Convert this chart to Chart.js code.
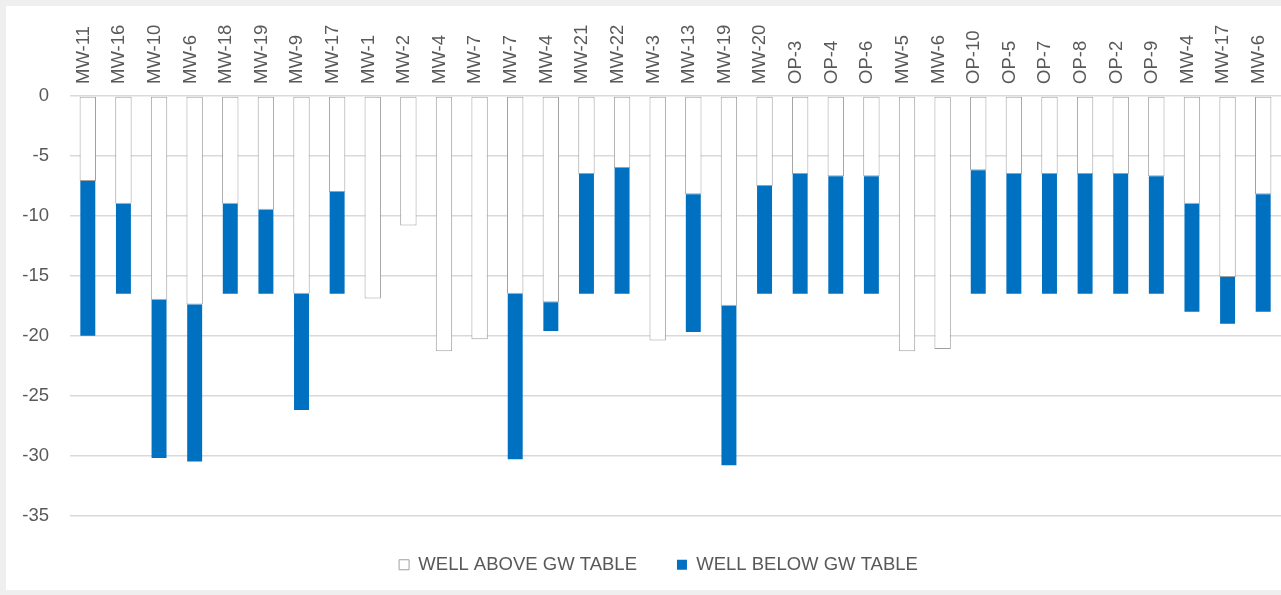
<!DOCTYPE html>
<html>
<head>
<meta charset="utf-8">
<script src="https://cdn.jsdelivr.net/npm/chart.js@4"></script>
<style>
	html, body { margin: 0; padding: 0; background: #efefef; }
	#wrap { position: absolute; left: 6px; top: 6px; width: 1275px; height: 584px; background: #fff; }
</style>
</head>
<body>
<div id="wrap"><canvas id="chartWells"></canvas></div>
<script>
const wells = ['MW-11', 'MW-16', 'MW-10', 'MW-6', 'MW-18', 'MW-19', 'MW-9', 'MW-17', 'MW-1', 'MW-2', 'MW-4', 'MW-7', 'MW-7', 'MW-4', 'MW-21', 'MW-22', 'MW-3', 'MW-13', 'MW-19', 'MW-20', 'OP-3', 'OP-4', 'OP-6', 'MW-5', 'MW-6', 'OP-10', 'OP-5', 'OP-7', 'OP-8', 'OP-2', 'OP-9', 'MW-4', 'MW-17', 'MW-6'];
// bottom of each well
const wellBottom = [-20, -16.5, -30.2, -30.5, -16.5, -16.5, -26.2, -16.5, -16.9, -10.8, -21.3, -20.3, -30.3, -19.6, -16.5, -16.5, -20.4, -19.7, -30.8, -16.5, -16.5, -16.5, -16.5, -21.3, -21.1, -16.5, -16.5, -16.5, -16.5, -16.5, -16.5, -18, -19, -18];
// groundwater table (null = well ends above GW table)
const gwTable = [-7.1, -9, -17, -17.4, -9, -9.5, -16.5, -8, null, null, null, null, -16.5, -17.2, -6.5, -6, null, -8.2, -17.5, -7.5, -6.5, -6.7, -6.7, null, null, -6.2, -6.5, -6.5, -6.5, -6.5, -6.7, -9, -15.1, -8.2];
const yTicks = [0, -5, -10, -15, -20, -25, -30, -35];

const aboveData = wells.map((w, i) => [0, gwTable[i] !== null ? gwTable[i] : wellBottom[i]]);
const belowData = wells.map((w, i) => gwTable[i] !== null ? [gwTable[i], wellBottom[i]] : null);

const font = { family: "'Liberation Sans', Arial, sans-serif", size: 18.5 };

// nudge the legend a bit right, like the original
const legendShift = {
	id: 'legendShift',
	afterLayout: (chart) => { chart.legend.left += 30; }
};

new Chart(document.getElementById('chartWells').getContext('2d'), {
	type: 'bar',
	data: {
		labels: wells,
		datasets: [
			{
				label: 'WELL ABOVE GW TABLE',
				data: aboveData,
				backgroundColor: '#ffffff',
				borderColor: '#a0a0a0',
				borderWidth: 1,
				borderSkipped: false,
				grouped: false,
				order: 2,
				barPercentage: 0.46,
				categoryPercentage: 1
			},
			{
				label: 'WELL BELOW GW TABLE',
				data: belowData,
				backgroundColor: '#0070c0',
				borderWidth: 0,
				grouped: false,
				order: 1,
				barPercentage: 0.42,
				categoryPercentage: 1
			}
		]
	},
	options: {
		responsive: true,
		maintainAspectRatio: false,
		animation: false,
		layout: {
			padding: { top: 0, left: 0, right: 0, bottom: 6 }
		},
		scales: {
			x: {
				position: 'top',
				afterFit: (axis) => { axis.height = 90; },
				grid: { display: false },
				border: { display: false },
				ticks: {
					minRotation: 90,
					maxRotation: 90,
					autoSkip: false,
					padding: 4,
					labelOffset: 18,
					color: '#595959',
					font: font
				}
			},
			y: {
				min: -35,
				max: 0,
				afterBuildTicks: (axis) => { axis.ticks = yTicks.map(v => ({ value: v })); },
				afterFit: (axis) => { axis.width = 64; },
				ticks: {
					padding: 21,
					color: '#595959',
					font: font
				},
				grid: { color: '#d9d9d9', lineWidth: 1.5, drawTicks: false },
				border: { display: false }
			}
		},
		plugins: {
			legend: {
				position: 'bottom',
				labels: {
					boxWidth: 10,
					boxHeight: 10,
					padding: 40,
					color: '#595959',
					font: font,
					sort: (a, b) => a.datasetIndex - b.datasetIndex
				}
			},
			tooltip: { enabled: false }
		}
	},
	plugins: [legendShift]
});
</script>
</body>
</html>
